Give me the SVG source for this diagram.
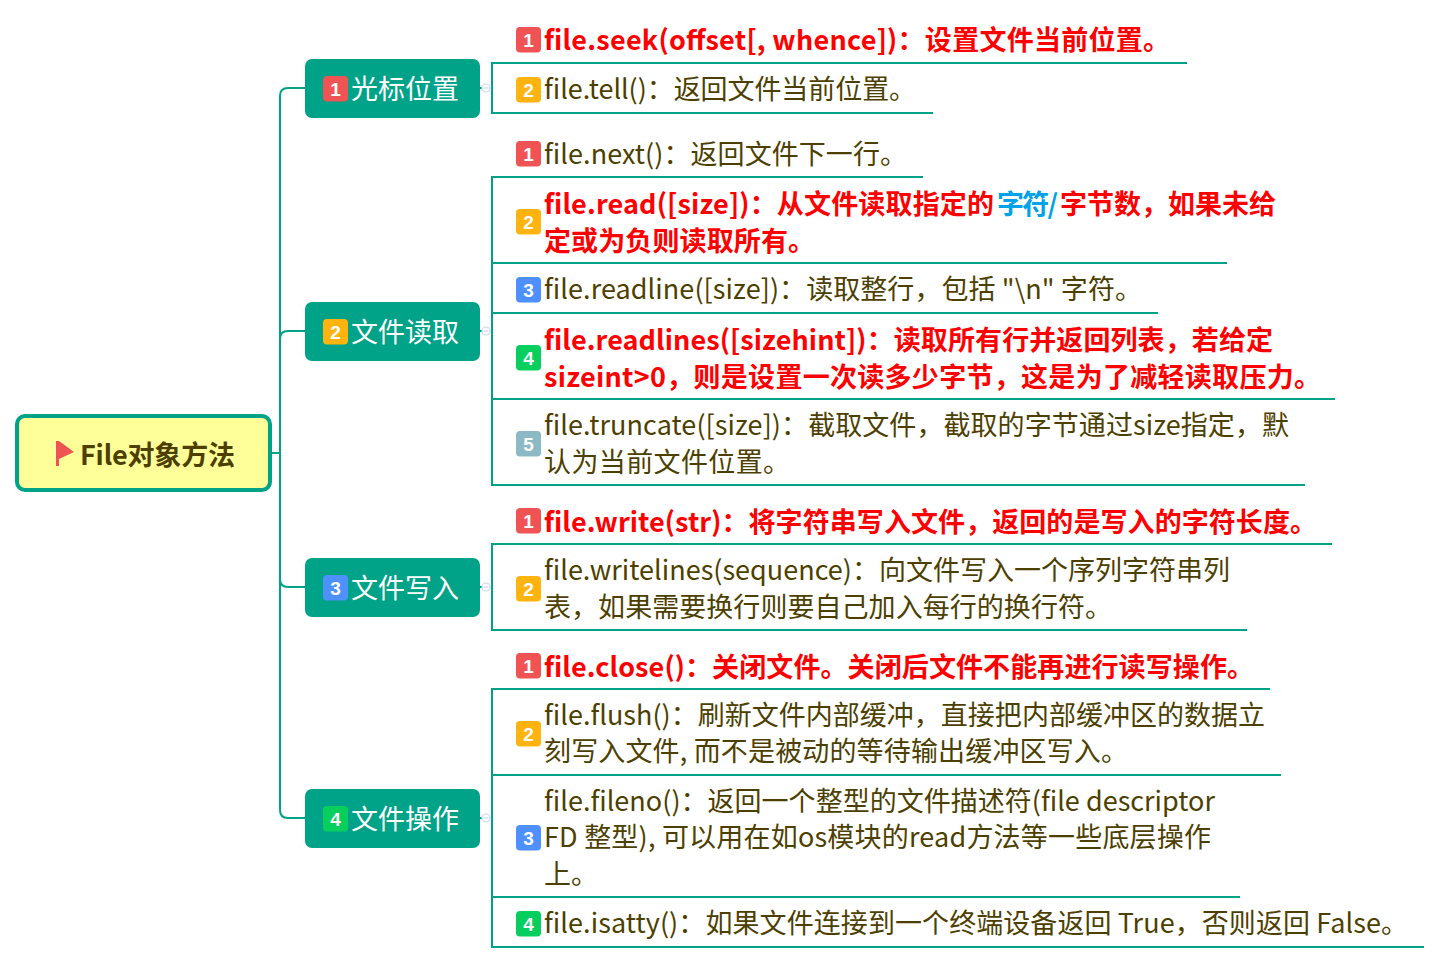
<svg xmlns="http://www.w3.org/2000/svg" width="1441" height="963" viewBox="0 0 1441 963">
<style>
text{font-family:"Noto Sans CJK SC","Noto Sans",sans-serif;font-size:27px;fill:#4d3f00}
.r{fill:#ff0000;font-weight:700}
.w{fill:#fff}
.b{font-size:19px;font-weight:700;fill:#fff;text-anchor:middle;font-family:"Liberation Sans",sans-serif}
.c1{fill:#f05353}.c2{fill:#ffb30f}.c3{fill:#4d90fe}.c4{fill:#06cf5d}.c5{fill:#8cb9c3}
.l{stroke:#00a388;stroke-width:2;fill:none}
.t{fill:#00a388}
.m{stroke:#c9d6f2;stroke-width:1.2;fill:#fff}
</style>
<g id="connectors" class="l">
<path d="M305 88H288Q280 88 280 96V810Q280 818 288 818H305"/>
<path d="M272 453H280M280 339Q280 331 288 331H305M280 579Q280 587 288 587H305"/>
<path d="M480 88H482M480 331H482M480 587H482M480 818H482"/>
<path d="M492 63V113M491 63H1187M491 113H933"/>
<path d="M492 177V485M491 177H923M491 263H1227M491 313H1158M491 399H1335M491 485H1305"/>
<path d="M492 544V630M491 544H1332M491 630H1247"/>
<path d="M492 689V947M491 689H1270M491 775H1281M491 897H1240M491 947H1424"/>
</g>
<g id="root"><rect x="17" y="416" width="253" height="74" rx="8" fill="#ffff99" stroke="#00a388" stroke-width="4"/>
<path d="M56 441H59V466H56Z" fill="#f05353"/><path d="M59 441L74 452L59 459Z" fill="#f05353"/>
<text x="80" y="464.500" style="font-weight:700" textLength="155">File对象方法</text></g>
<g id="branch1"><rect class="t" x="305" y="59" width="175" height="59" rx="7"/><rect class="c1" x="323" y="76" width="25" height="25.500" rx="4"/><text class="b" x="335.500" y="95.500">1</text><text class="w" x="351" y="98.500" textLength="108">光标位置</text><circle class="m" cx="486" cy="88" r="4"/><path class="m" d="M483.500 88H488.500"/></g>
<g id="branch2"><rect class="t" x="305" y="302" width="175" height="59" rx="7"/><rect class="c2" x="323" y="319" width="25" height="25.500" rx="4"/><text class="b" x="335.500" y="338.500">2</text><text class="w" x="351" y="341.500" textLength="108">文件读取</text><circle class="m" cx="486" cy="331" r="4"/><path class="m" d="M483.500 331H488.500"/></g>
<g id="branch3"><rect class="t" x="305" y="558" width="175" height="59" rx="7"/><rect class="c3" x="323" y="575" width="25" height="25.500" rx="4"/><text class="b" x="335.500" y="594.500">3</text><text class="w" x="351" y="597.500" textLength="108">文件写入</text><circle class="m" cx="486" cy="587" r="4"/><path class="m" d="M483.500 587H488.500"/></g>
<g id="branch4"><rect class="t" x="305" y="789" width="175" height="59" rx="7"/><rect class="c4" x="323" y="806" width="25" height="25.500" rx="4"/><text class="b" x="335.500" y="825.500">4</text><text class="w" x="351" y="828.500" textLength="108">文件操作</text><circle class="m" cx="486" cy="818" r="4"/><path class="m" d="M483.500 818H488.500"/></g>

<g id="seek"><rect class="c1" x="516" y="27" width="25" height="25.500" rx="4"/><text class="b" x="528.500" y="46.500">1</text><text class="r" x="544" y="50" textLength="626">file.seek(offset[, whence])：设置文件当前位置。</text></g>
<g id="tell"><rect class="c2" x="516" y="77" width="25" height="25.500" rx="4"/><text class="b" x="528.500" y="96.500">2</text><text x="544" y="99" textLength="372">file.tell()：返回文件当前位置。</text></g>
<g id="next"><rect class="c1" x="516" y="141" width="25" height="25.500" rx="4"/><text class="b" x="528.500" y="160.500">1</text><text x="544" y="163.500" textLength="363">file.next()：返回文件下一行。</text></g>
<g id="read"><rect class="c2" x="516" y="209" width="25" height="25.500" rx="4"/><text class="b" x="528.500" y="228.500">2</text><text class="r" x="544" y="214" textLength="450">file.read([size])：从文件读取指定的</text><text class="r" x="997" y="214" textLength="61" style="fill:#00a2e8">字符/</text><text class="r" x="1060" y="214" textLength="216">字节数，如果未给</text><text class="r" x="544" y="251" textLength="271">定或为负则读取所有。</text></g>
<g id="readline"><rect class="c3" x="516" y="277" width="25" height="25.500" rx="4"/><text class="b" x="528.500" y="296.500">3</text><text x="544" y="299" textLength="598">file.readline([size])：读取整行，包括 "\n" 字符。</text></g>
<g id="readlines"><rect class="c4" x="516" y="345" width="25" height="25.500" rx="4"/><text class="b" x="528.500" y="364.500">4</text><text class="r" x="544" y="350" textLength="729">file.readlines([sizehint])：读取所有行并返回列表，若给定</text><text class="r" x="544" y="386.500" textLength="777">sizeint&gt;0，则是设置一次读多少字节，这是为了减轻读取压力。</text></g>
<g id="truncate"><rect class="c5" x="516" y="431" width="25" height="25.500" rx="4"/><text class="b" x="528.500" y="450.500">5</text><text x="544" y="435" textLength="745">file.truncate([size])：截取文件，截取的字节通过size指定，默</text><text x="544" y="472" textLength="246">认为当前文件位置。</text></g>
<g id="write"><rect class="c1" x="516" y="508" width="25" height="25.500" rx="4"/><text class="b" x="528.500" y="527.500">1</text><text class="r" x="544" y="531.500" textLength="773">file.write(str)：将字符串写入文件，返回的是写入的字符长度。</text></g>
<g id="writelines"><rect class="c2" x="516" y="576" width="25" height="25.500" rx="4"/><text class="b" x="528.500" y="595.500">2</text><text x="544" y="580" textLength="686">file.writelines(sequence)：向文件写入一个序列字符串列</text><text x="544" y="616.500" textLength="568">表，如果需要换行则要自己加入每行的换行符。</text></g>
<g id="close"><rect class="c1" x="516" y="653" width="25" height="25.500" rx="4"/><text class="b" x="528.500" y="672.500">1</text><text class="r" x="544" y="676.500" textLength="710">file.close()：关闭文件。关闭后文件不能再进行读写操作。</text></g>
<g id="flush"><rect class="c2" x="516" y="721" width="25" height="25.500" rx="4"/><text class="b" x="528.500" y="740.500">2</text><text x="544" y="725" textLength="721">file.flush()：刷新文件内部缓冲，直接把内部缓冲区的数据立</text><text x="544" y="761" textLength="584">刻写入文件, 而不是被动的等待输出缓冲区写入。</text></g>
<g id="fileno"><rect class="c3" x="516" y="825" width="25" height="25.500" rx="4"/><text class="b" x="528.500" y="844.500">3</text><text x="544" y="811" textLength="671">file.fileno()：返回一个整型的文件描述符(file descriptor</text><text x="544" y="847" textLength="667">FD 整型), 可以用在如os模块的read方法等一些底层操作</text><text x="544" y="883.500" textLength="54">上。</text></g>
<g id="isatty"><rect class="c4" x="516" y="911" width="25" height="25.500" rx="4"/><text class="b" x="528.500" y="930.500">4</text><text x="544" y="933" textLength="864">file.isatty()：如果文件连接到一个终端设备返回 True，否则返回 False。</text></g>
</svg>
